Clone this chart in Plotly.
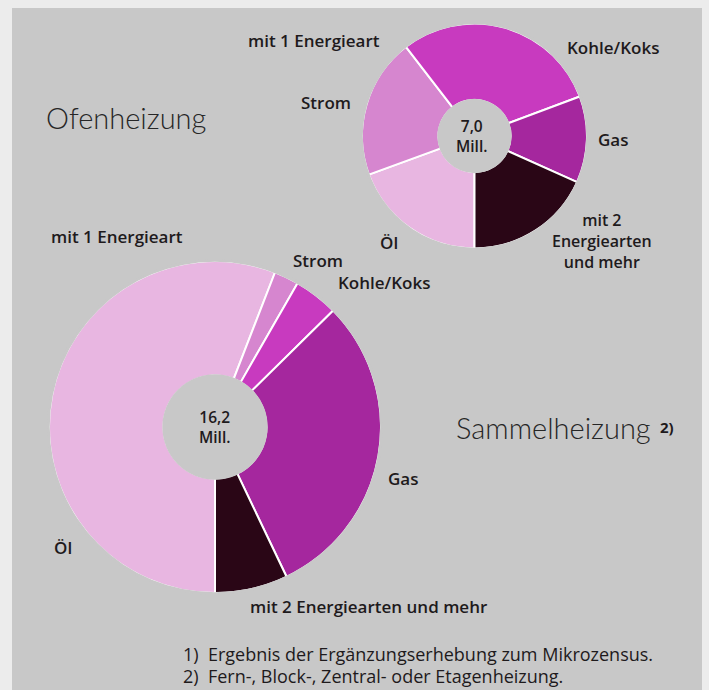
import plotly.graph_objects as go

W, H = 709, 690

# ---- data ----
categories = ["Öl", "Strom", "Kohle/Koks", "Gas", "mit 2 Energiearten und mehr"]
ofen_values = [1.36, 1.41, 2.08, 0.87, 1.28]          # Mill. (Ofenheizung, total 7,0)
sammel_values = [9.06, 0.39, 0.70, 4.91, 1.15]        # Mill. (Sammelheizung, total 16,2)
ofen_total_label = "7,0"
sammel_total_label = "16,2"
slice_colors = ["#e8b6e1", "#d686cf", "#c83abf", "#a5279e", "#2a0616"]

TITLE_FONT = "Lato"
FONT = "Open Sans"
BG_OUT = "#ececec"
BG = "#c8c8c8"
TXT = "#1e1a1c"


def px(x):
    return x / W


def py(y):
    return 1 - y / H


def dom(cx, cy, r):
    return dict(x=[px(cx - r), px(cx + r)], y=[py(cy + r), py(cy - r)])


fig = go.Figure()


def add_donut(values, cx, cy, r, hole):
    fig.add_trace(go.Pie(
        labels=categories, values=values, sort=False, direction="clockwise",
        rotation=180, hole=hole, domain=dom(cx, cy, r),
        marker=dict(colors=slice_colors, line=dict(color="white", width=2)),
        textinfo="none", hoverinfo="label+value", showlegend=False,
    ))
    # cover the white outline on the outer and inner arcs (background-coloured rims)
    ro = r + 2
    fig.add_trace(go.Pie(
        values=[1], sort=False, hole=(r - 0.8) / ro, domain=dom(cx, cy, ro),
        marker=dict(colors=[BG], line=dict(width=0)),
        textinfo="none", hoverinfo="skip", showlegend=False,
    ))
    rh = r * hole + 1.2
    fig.add_trace(go.Pie(
        values=[1], sort=False, domain=dom(cx, cy, rh),
        marker=dict(colors=[BG], line=dict(width=0)),
        textinfo="none", hoverinfo="skip", showlegend=False,
    ))


add_donut(ofen_values, 474.5, 136, 112.5, 0.32)
add_donut(sammel_values, 215, 427, 166, 0.31)

annotations = []


def ann(text, x, y, size=17, bold=True, xanchor="center", weight=None,
        color=TXT, family=FONT):
    f = dict(family=family, size=size, color=color)
    if weight is not None:
        f["weight"] = weight
    elif bold:
        f["weight"] = 600
    annotations.append(dict(text=text, x=px(x), y=py(y), xref="paper", yref="paper",
                            xanchor=xanchor, yanchor="middle", showarrow=False,
                            align="center", font=f))


# titles
ann("Ofenheizung", 44, 117, size=29, xanchor="left", weight=300,
    color="#262626", family=TITLE_FONT)
ann("Sammelheizung", 454, 427, size=29, xanchor="left", weight=300,
    color="#262626", family=TITLE_FONT)
ann("2)", 667, 427, size=15, weight=700)

# small pie labels
ann("mit 1 Energieart", 314, 41)
ann("Strom", 326, 103)
ann("Kohle/Koks", 613, 47)
ann("Gas", 613, 139)
ann("mit 2<br>Energiearten<br>und mehr", 602, 241, size=16)
ann("Öl", 389, 242)
ann(ofen_total_label + "<br>Mill.", 472, 136, size=15.5)

# large pie labels
ann("mit 1 Energieart", 117, 236)
ann("Strom", 318, 260)
ann("Kohle/Koks", 384, 282)
ann("Gas", 403, 478)
ann("Öl", 63, 547)
ann("mit 2 Energiearten und mehr", 369, 606)
ann(sammel_total_label + "<br>Mill.", 215, 427, size=15.5)

# footnotes
ann("1)  Ergebnis der Ergänzungserhebung zum Mikrozensus.", 181, 654, size=18,
    xanchor="left", weight=500)
ann("2)  Fern-, Block-, Zentral- oder Etagenheizung.", 181, 676, size=18,
    xanchor="left", weight=500)

fig.update_layout(
    width=W, height=H, margin=dict(l=0, r=0, t=0, b=0),
    paper_bgcolor=BG_OUT, plot_bgcolor=BG_OUT,
    annotations=annotations,
    shapes=[dict(type="rect", xref="paper", yref="paper", x0=px(12), x1=px(702),
                 y0=0, y1=py(8), fillcolor=BG, line=dict(width=0), layer="below")],
    showlegend=False,
)

fig.write_html(
    "out.html",
    config={"displayModeBar": False},
    post_script="document.body.style.margin='0';document.body.style.background='#ececec';"
                "document.body.style.overflow='hidden';",
)
